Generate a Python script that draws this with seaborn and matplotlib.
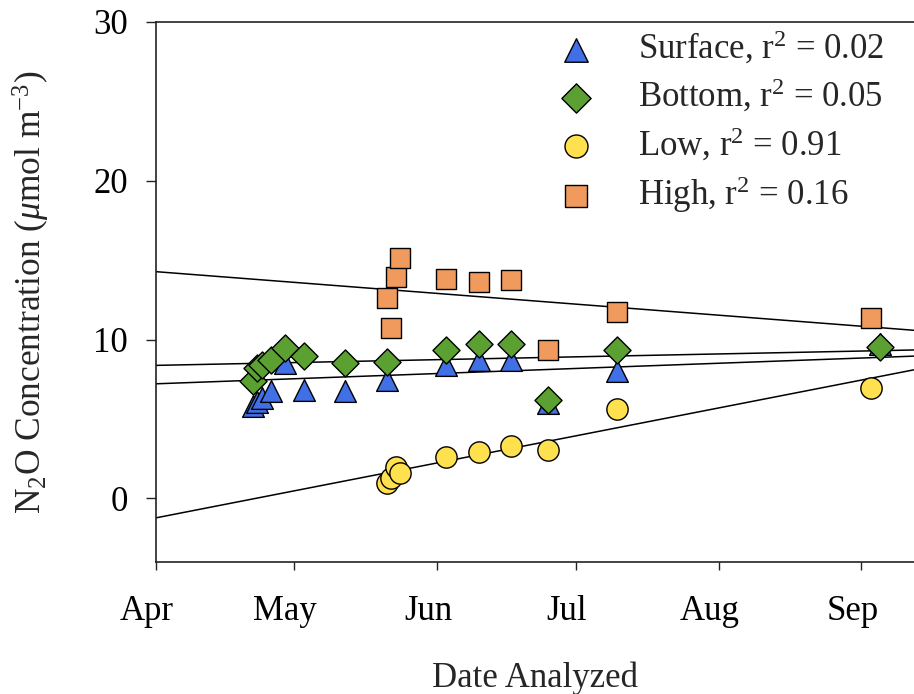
import numpy as np
import pandas as pd
import matplotlib
matplotlib.use("Agg")
import matplotlib.pyplot as plt
import matplotlib.dates as mdates
import matplotlib.transforms as mtransforms
import seaborn as sns

# ---------------- data ----------------
surface_dates = ["2011-04-22", "2011-04-23", "2011-04-24", "2011-04-26", "2011-04-29",
                 "2011-05-03", "2011-05-12", "2011-05-21", "2011-06-03", "2011-06-10",
                 "2011-06-17", "2011-06-25", "2011-07-10", "2011-09-05"]
surface_vals = [5.8, 6.05, 6.3, 6.74, 8.55, 6.85, 6.75, 7.45, 8.4, 8.75, 8.75, 6.0, 8.05, 9.75]

bottom_dates = surface_dates
bottom_vals = [7.37, 8.2, 8.42, 8.74, 9.47, 8.95, 8.5, 8.57, 9.37, 9.75, 9.73, 6.17, 9.37, 9.51]

low_dates = ["2011-05-21", "2011-05-22", "2011-05-23", "2011-05-24", "2011-06-03",
             "2011-06-10", "2011-06-17", "2011-06-25", "2011-07-10", "2011-09-03"]
low_vals = [0.95, 1.26, 2.0, 1.58, 2.63, 2.94, 3.30, 3.05, 5.62, 6.95]

high_dates = low_dates
high_vals = [12.63, 10.74, 13.96, 15.16, 13.79, 13.62, 13.75, 9.32, 11.73, 11.37]

series_names = ["Surface", "Bottom", "Low", "High"]
r2_values = ["0.02", "0.05", "0.91", "0.16"]
# regression lines: value on Apr 1 and slope per day
fit_start = [7.22, 8.38, -1.22, 14.28]
fit_slope = [0.0106, 0.0059, 0.0567, -0.02245]

x_start = "2011-04-01"
x_span_days = 164.4
y_limits = (-4, 30)
y_ticks = [0, 10, 20, 30]

# ---------------- style ----------------
sns.set_theme(style="ticks")
plt.rcParams["font.family"] = ["Liberation Serif", "DejaVu Serif"]
plt.rcParams["mathtext.fontset"] = "custom"
plt.rcParams["mathtext.rm"] = "Liberation Serif"
plt.rcParams["mathtext.it"] = "Liberation Serif:italic"
plt.rcParams["mathtext.default"] = "regular"

FS = 25
colors = ["#4170E6", "#5BA132", "#FFE04E", "#F09A5E"]
markers = ["^", "D", "o", "s"]
sizes = [245, 190, 235, 200]

fig = plt.figure(figsize=(9.14, 6.94), dpi=100)
ax = fig.add_axes([156 / 914, 132 / 694, 758 / 914, 540 / 694])

x0 = mdates.date2num(pd.Timestamp(x_start))
ax.set_xlim(x0, x0 + x_span_days)
ax.set_ylim(*y_limits)

# regression lines
xs = np.array([x0, x0 + x_span_days])
for b0, m in zip(fit_start, fit_slope):
    sns.lineplot(x=xs, y=b0 + m * (xs - x0), color="black", linewidth=1.1,
                 ax=ax, zorder=2, legend=False)

all_dates = [surface_dates, bottom_dates, low_dates, high_dates]
all_vals = [surface_vals, bottom_vals, low_vals, high_vals]
for name, r2, d, v, c, mk, s in zip(series_names, r2_values, all_dates, all_vals,
                                      colors, markers, sizes):
    xd = mdates.date2num(pd.to_datetime(d))
    sns.scatterplot(x=xd, y=v, marker=mk, s=s, color=c, edgecolor="black",
                    linewidth=1.0, zorder=3, ax=ax,
                    label=f"{name}, r$^2$ = {r2}")

ax.set_xlim(x0, x0 + x_span_days)
ax.set_ylim(*y_limits)

ax.xaxis.set_major_locator(mdates.MonthLocator())
ax.xaxis.set_major_formatter(mdates.DateFormatter("%b"))
ax.set_yticks(y_ticks)

for sp in ["left", "bottom", "top"]:
    ax.spines[sp].set_color("#222222")
    ax.spines[sp].set_linewidth(1.2)
ax.spines["right"].set_visible(False)

ax.tick_params(axis="y", direction="out", length=7, width=1.0, pad=13,
               labelsize=FS, colors="#222222", labelcolor="black", right=False)
ax.tick_params(axis="x", direction="out", length=6, width=1.0, pad=18,
               labelsize=FS, colors="#222222", labelcolor="black", top=False)

offset = mtransforms.ScaledTranslation(-0.09, 0, fig.dpi_scale_trans)
for lab in ax.get_xticklabels():
    lab.set_transform(lab.get_transform() + offset)

ax.set_xlabel("Date Analyzed", fontsize=FS, labelpad=24)
ax.set_ylabel(r"N$_2$O Concentration ($\mathit{\mu}$mol m$^{-3}$)", fontsize=FS + 0.5,
              labelpad=30)

leg = ax.legend(loc="upper left", bbox_to_anchor=(0.531, 0.986), frameon=False,
                fontsize=FS, handlelength=1.0, handletextpad=1.3, labelspacing=0.32,
                borderpad=0, borderaxespad=0, scatterpoints=1, markerscale=1.08)

fig.savefig("out.png", dpi=100)
